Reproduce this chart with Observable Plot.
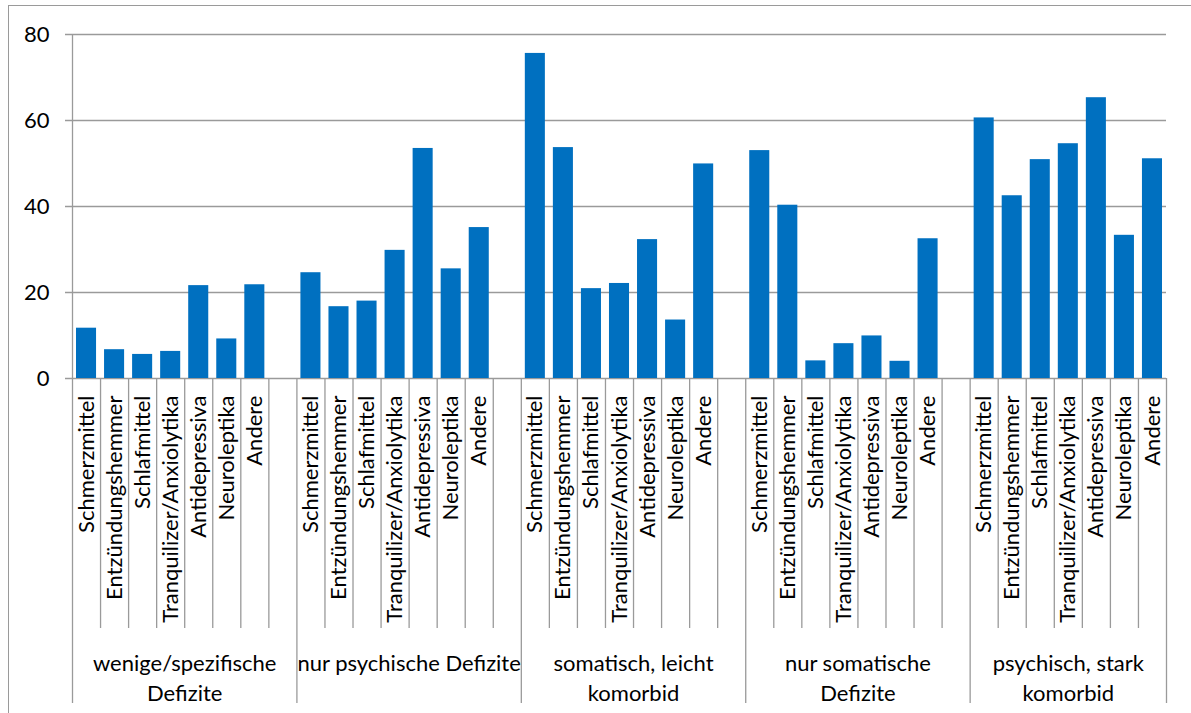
<!DOCTYPE html>
<html>
<head>
<meta charset="utf-8">
<script src="https://cdn.jsdelivr.net/npm/d3@7"></script>
<script src="https://cdn.jsdelivr.net/npm/@observablehq/plot@0.6"></script>
<style>
  html, body { margin: 0; padding: 0; background: #fff; overflow: hidden; }
  #wrap { position: relative; width: 1191px; height: 713px; }
  #border { position: absolute; left: 8px; top: 5px; width: 1400px; height: 900px;
            border-left: 1px solid #9a9a9a; border-top: 1px solid #9a9a9a; pointer-events: none; }
  #chart { position: absolute; left: 0; top: 0; }
</style>
</head>
<body>
<div id="wrap"><div id="chart"></div><div id="border"></div></div>
<script>
// Patient groups (category axis, outer level)
const groups = [
  "wenige/spezifische\nDefizite",
  "nur psychische Defizite",
  "somatisch, leicht\nkomorbid",
  "nur somatische\nDefizite",
  "psychisch, stark\nkomorbid"
];
// Drug classes (category axis, inner level)
const drugs = [
  "Schmerzmittel", "Entzündungshemmer", "Schlafmittel",
  "Tranquilizer/Anxiolytika", "Antidepressiva", "Neuroleptika", "Andere"
];
// Values per group, in drug order
const wenigeSpezifisch = [11.7, 6.7, 5.6, 6.3, 21.6, 9.2, 21.8];
const nurPsychisch     = [24.6, 16.7, 18.0, 29.8, 53.5, 25.5, 35.1];
const somatischLeicht  = [75.6, 53.7, 20.9, 22.1, 32.3, 13.6, 49.9];
const nurSomatisch     = [53.0, 40.3, 4.1, 8.1, 9.9, 4.0, 32.5];
const psychischStark   = [60.6, 42.5, 50.9, 54.6, 65.3, 33.3, 51.1];
const yTicks = [0, 20, 40, 60, 80];

const series = [wenigeSpezifisch, nurPsychisch, somatischLeicht, nurSomatisch, psychischStark];

// Each group takes 7 slots plus one empty slot between groups
const slotsPerGroup = drugs.length + 1;
const nSlots = groups.length * slotsPerGroup - 1;

const bars = [];
series.forEach((vals, g) => vals.forEach((v, d) => {
  bars.push({slot: g * slotsPerGroup + d, drug: drugs[d], group: groups[g], value: v});
}));

const groupInfo = groups.map((name, g) => {
  const start = g * slotsPerGroup;
  const end = Math.min(start + slotsPerGroup, nSlots);
  return {name, start, end, center: (start + end) / 2};
});
const longBounds = [0, ...groupInfo.map(d => d.end)];
const shortBounds = d3.range(1, nSlots).filter(i => !longBounds.includes(i));

const W = 1191, H = 713;
const mTop = 34, mBottom = 335, mLeft = 72, mRight = 25;
const plotH = H - mTop - mBottom;
const grey = "#9a9a9a";
const blue = "#0070c0";

const chart = Plot.plot({
  width: W,
  height: H,
  marginTop: mTop,
  marginBottom: mBottom,
  marginLeft: mLeft,
  marginRight: mRight,
  style: {fontFamily: "Lato, 'Open Sans', sans-serif", fontSize: "22px", color: "#000", background: "transparent"},
  x: {type: "linear", domain: [0, nSlots], axis: null},
  y: {domain: [0, 80], ticks: yTicks, tickSize: 0, tickPadding: 23, label: null},
  marks: [
    Plot.ruleY(yTicks, {stroke: grey, strokeWidth: 1.3, insetLeft: -7}),
    Plot.rectY(bars, {x1: "slot", x2: d => d.slot + 1, y: "value", fill: blue, insetLeft: 4, insetRight: 4}),
    Plot.ruleX([0], {stroke: grey, strokeWidth: 1.3}),
    Plot.ruleX(shortBounds, {stroke: grey, strokeWidth: 1.3, insetTop: plotH, insetBottom: -250}),
    Plot.ruleX(longBounds, {stroke: grey, strokeWidth: 1.3, insetTop: plotH, insetBottom: -325}),
    Plot.text(bars, {
      x: d => d.slot + 0.5, text: "drug", rotate: -90,
      textAnchor: "end", lineAnchor: "middle", frameAnchor: "bottom", dy: 17,
      fill: "#000"
    }),
    Plot.text(groupInfo, {
      x: "center", text: "name", lineAnchor: "top", frameAnchor: "bottom",
      dy: 271, lineHeight: 1.36, fill: "#000"
    })
  ]
});
document.getElementById("chart").appendChild(chart);
</script>
</body>
</html>
